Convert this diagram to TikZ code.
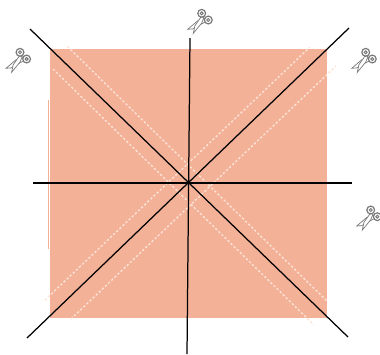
\documentclass[tikz,border=0pt]{standalone}
\usepackage{amsmath,amssymb}
\definecolor{paper}{HTML}{F3B197}
\definecolor{foldline}{HTML}{FCE3D7}
\definecolor{toolgray}{HTML}{787878}
\tikzset{
  cutline/.style={black,line width=.9pt},
  foldmark/.style={foldline,line width=1pt,dash pattern=on 1.6pt off 1.5pt},
  scissors/.pic={
    \draw[toolgray,line width=.5pt,fill=white] (-11.6,6.6)--(-1.5,-2)--(5.5,-4.2)--(6.8,-1.2)--(1.5,1.6)--(-6.5,6.2)--cycle;
    \draw[toolgray,line width=.5pt,fill=white] (-6,10.6)--(-4.4,3)--(0,-3.2)--(2,-6.2)--(4.6,-5)--(2.4,0.4)--cycle;
    \draw[toolgray,line width=.85pt,fill=white] (2.4,-9.4) circle[radius=3.9];
    \draw[toolgray,line width=.85pt,fill=white] (9,-2.7) circle[radius=3.9];
    \draw[toolgray,line width=.7pt] (2.4,-9.4) circle[radius=1.5];
    \draw[toolgray,line width=.7pt] (9,-2.7) circle[radius=1.5];
  }
}
\begin{document}
\begin{tikzpicture}[x=.01in,y=-.01in]
\path[use as bounding box] (0,0) rectangle (380,354);
\fill[paper] (50,49) rectangle (327,318);
\draw[paper,line width=.5pt] (48,100)--(48,249);
% dotted fold marks
\draw[foldmark] (67.5,46.5)--(328,302);
\draw[foldmark] (53,69)--(314,325);
\draw[foldmark] (45,300)--(310,47);
\draw[foldmark] (71,319)--(336,66);
% cuts
\draw[cutline] (30,29)--(348,337);
\draw[cutline] (349,28)--(27,338);
\draw[cutline] (190,38)--(187,354);
\draw[cutline] (33,183)--(352,183);
\foreach \sx/\sy in {17.6/61.7,199.3/22.7,363.3/61.7,368.3/219.4}
  \pic at (\sx,\sy) {scissors};
\end{tikzpicture}
\end{document}
